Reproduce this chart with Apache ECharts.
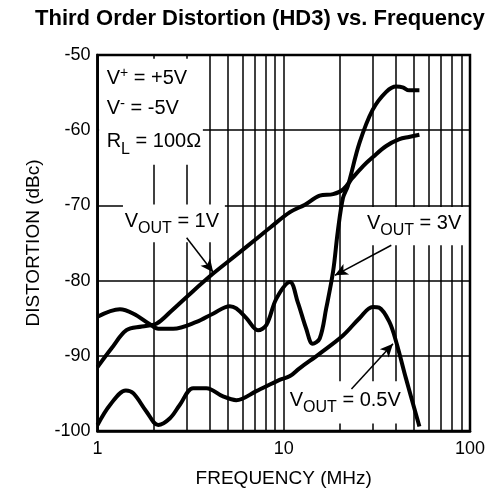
<!DOCTYPE html>
<html><head><meta charset="utf-8">
<script src="https://cdn.jsdelivr.net/npm/echarts@6/dist/echarts.min.js"></script>
<style>html,body{margin:0;padding:0;background:#fff}#c{width:500px;height:493px}</style>
</head><body><div id="c"></div>
<script>
// ---- data ----
const freq1V = [1.0, 1.19, 1.43, 1.73, 2.08, 2.5, 3.0, 4.16, 5.5, 7.0, 8.5, 10.8, 13, 15.6, 18.4, 20.8, 23.5, 26.6, 30, 35.5, 41.8, 47, 53.5];
const hd3_1V = [-91.5, -89.0, -86.6, -86.1, -85.7, -84.0, -82.2, -79.1, -76.7, -74.6, -72.9, -70.9, -69.9, -68.7, -68.5, -67.9, -66.3, -64.8, -63.6, -62.1, -61.2, -60.9, -60.6];

const freq3V = [1.0, 1.32, 1.56, 1.91, 2.12, 2.55, 3.4, 4.17, 5.13, 5.56, 6.3, 7.27, 8.07, 9.13, 10.8, 11.9, 13.2, 14.3, 15.6, 16.9, 18.4, 19.5, 20.8, 22.1, 25.5, 30, 35.5, 40.2, 43.5, 47.1, 53.5];
const hd3_3V = [-84.8, -83.8, -84.4, -85.8, -86.4, -86.4, -85.5, -84.4, -83.4, -83.7, -85.0, -86.6, -85.9, -82.4, -80.2, -82.9, -86.4, -88.4, -87.7, -83.7, -78.8, -73.5, -69.0, -67.4, -61.7, -57.3, -54.9, -54.2, -54.3, -54.7, -54.7];

const freq05V = [1.0, 1.17, 1.42, 1.56, 1.83, 2.12, 2.45, 2.77, 3.26, 3.84, 4.72, 5.56, 7.12, 9.5, 10.8, 12.1, 15.6, 20.8, 25.5, 30, 32.5, 36.9, 40.2, 45.3, 53.5];
const hd3_05V = [-99.2, -96.5, -94.6, -95.0, -97.4, -99.2, -98.3, -96.5, -94.3, -94.3, -95.4, -95.9, -94.7, -93.2, -92.7, -91.7, -89.7, -87.3, -85.0, -83.5, -83.6, -85.5, -88.2, -93.0, -99.4];

const minorFreqs = [2, 3, 4, 5, 6, 7, 8, 9, 20, 30, 40, 50, 60, 70, 80, 90];
const yMin = -100, yMax = -50, yStep = 10;
const xMin = 1, xMax = 100;

// annotation texts (parts: main / sub / sup) and anchors (left edge, cap top; data coordinates)
const notes = [
  { at: [1.12, -52.2], parts: [['V', 'm'], ['+', 'sup'], [' = +5V', 'm']] },
  { at: [1.12, -56.2], parts: [['V', 'm'], ['-', 'supm'], [' = -5V', 'm']] },
  { at: [1.12, -60.6], parts: [['R', 'm'], ['L', 'sub'], [' = 100Ω', 'm']] },
  { at: [1.40, -71.2], parts: [['V', 'm'], ['OUT', 'sub'], [' = 1V', 'm']] },
  { at: [27.97, -71.4], parts: [['V', 'm'], ['OUT', 'sub'], [' = 3V', 'm']] },
  { at: [10.77, -95.0], parts: [['V', 'm'], ['OUT', 'sub'], [' = 0.5V', 'm']] }
];
// white label backgrounds [x0, y0, x1, y1] in data coordinates
const boxes = [
  [1.02, -50.5, 3.68, -64.6],
  [1.37, -69.88, 4.83, -74.9],
  [26.2, -70.2, 94.6, -75.3],
  [10.4, -93.4, 42.9, -99.0]
];
// arrows: from -> to
const arrows = [
  [[3.01, -74.3], [4.18, -78.9]],
  [[37.8, -75.3], [18.8, -79.3]],
  [[23.1, -94.4], [38.6, -88.4]]
];

const FONT = '"Liberation Sans", Arial, Helvetica, sans-serif';
const chart = echarts.init(document.getElementById('c'));
const toPairs = (f, v) => f.map((x, i) => [x, v[i]]);
const curve = (name, f, v) => ({
  type: 'line', name, data: toPairs(f, v), z: 3, smooth: 0.35,
  showSymbol: false, symbol: 'none', silent: true,
  lineStyle: { color: '#000', width: 4 }, itemStyle: { color: '#000' }
});

chart.setOption({
  animation: false,
  backgroundColor: '#fff',
  title: {
    text: 'Third Order Distortion (HD3) vs. Frequency',
    left: 35, top: 8, padding: 0,
    textStyle: { fontFamily: FONT, fontWeight: 'bold', fontSize: 22, color: '#000' }
  },
  grid: { left: 97.5, right: 30, top: 55, bottom: 60.5, show: true, borderColor: '#000', borderWidth: 2.5, backgroundColor: 'transparent' },
  xAxis: {
    type: 'log', logBase: 10, min: xMin, max: xMax,
    axisLine: { show: true, lineStyle: { color: '#000', width: 2.5 } },
    axisTick: { show: false },
    axisLabel: { color: '#000', fontFamily: FONT, fontSize: 18, margin: 9 },
    splitLine: { show: true, lineStyle: { color: '#000', width: 1.5 } },
    name: 'FREQUENCY (MHz)', nameLocation: 'middle', nameGap: 38,
    nameTextStyle: { color: '#000', fontFamily: FONT, fontSize: 19 }
  },
  yAxis: {
    type: 'value', min: yMin, max: yMax, interval: yStep,
    axisLine: { show: true, lineStyle: { color: '#000', width: 2.5 } },
    axisTick: { show: false },
    axisLabel: { color: '#000', fontFamily: FONT, fontSize: 18, margin: 7 },
    splitLine: { show: true, lineStyle: { color: '#000', width: 1.5 } },
    name: 'DISTORTION (dBc)', nameLocation: 'middle', nameGap: 52,
    nameTextStyle: { color: '#000', fontFamily: FONT, fontSize: 19 }
  },
  series: [
    {
      type: 'line', name: 'minorGrid', data: [], z: 1, silent: true,
      markLine: {
        z: 1, silent: true, symbol: ['none', 'none'], label: { show: false },
        lineStyle: { color: '#000', width: 1.5, type: 'solid' },
        emphasis: { disabled: true }, animation: false,
        data: minorFreqs.map(f => ({ xAxis: f }))
      }
    },
    curve('VOUT = 1V', freq1V, hd3_1V),
    curve('VOUT = 3V', freq3V, hd3_3V),
    curve('VOUT = 0.5V', freq05V, hd3_05V),
    {
      type: 'line', name: 'arrows', data: [], z: 4, silent: true,
      markLine: {
        z: 4, silent: true, symbol: ['none', 'arrow'], symbolSize: [9, 13], label: { show: false },
        lineStyle: { color: '#000', width: 1.5, type: 'solid' },
        emphasis: { disabled: true }, animation: false,
        data: arrows.map(a => [{ coord: a[0] }, { coord: a[1] }])
      }
    }
  ]
});

const px = p => chart.convertToPixel({ gridIndex: 0 }, p);
// part styles: font size and vertical offset of text middle from the main cap top
const partStyle = {
  m: { size: 20, dy: 7.2 },
  sub: { size: 16, dy: 14.5 },
  sup: { size: 14, dy: 1.5 },
  supm: { size: 15, dy: 2.5 }
};
const measureCtx = document.createElement('canvas').getContext('2d');
const textWidth = (t, size) => { measureCtx.font = size + 'px ' + FONT; return measureCtx.measureText(t).width; };

const graphics = [];
boxes.forEach(b => {
  const p0 = px([b[0], b[1]]), p1 = px([b[2], b[3]]);
  graphics.push({ type: 'rect', z: 2, silent: true,
    shape: { x: Math.min(p0[0], p1[0]), y: Math.min(p0[1], p1[1]), width: Math.abs(p1[0] - p0[0]), height: Math.abs(p1[1] - p0[1]) },
    style: { fill: '#fff' } });
});
notes.forEach(n => {
  const p = px(n.at);
  let x = p[0];
  n.parts.forEach(([t, k]) => {
    const s = partStyle[k];
    graphics.push({ type: 'text', z: 6, silent: true, x: x, y: p[1] + s.dy,
      style: { text: t, fontFamily: FONT, fontSize: s.size, fill: '#000', align: 'left', verticalAlign: 'middle' } });
    x += textWidth(t, s.size);
  });
});
chart.setOption({ graphic: graphics });
</script></body></html>
